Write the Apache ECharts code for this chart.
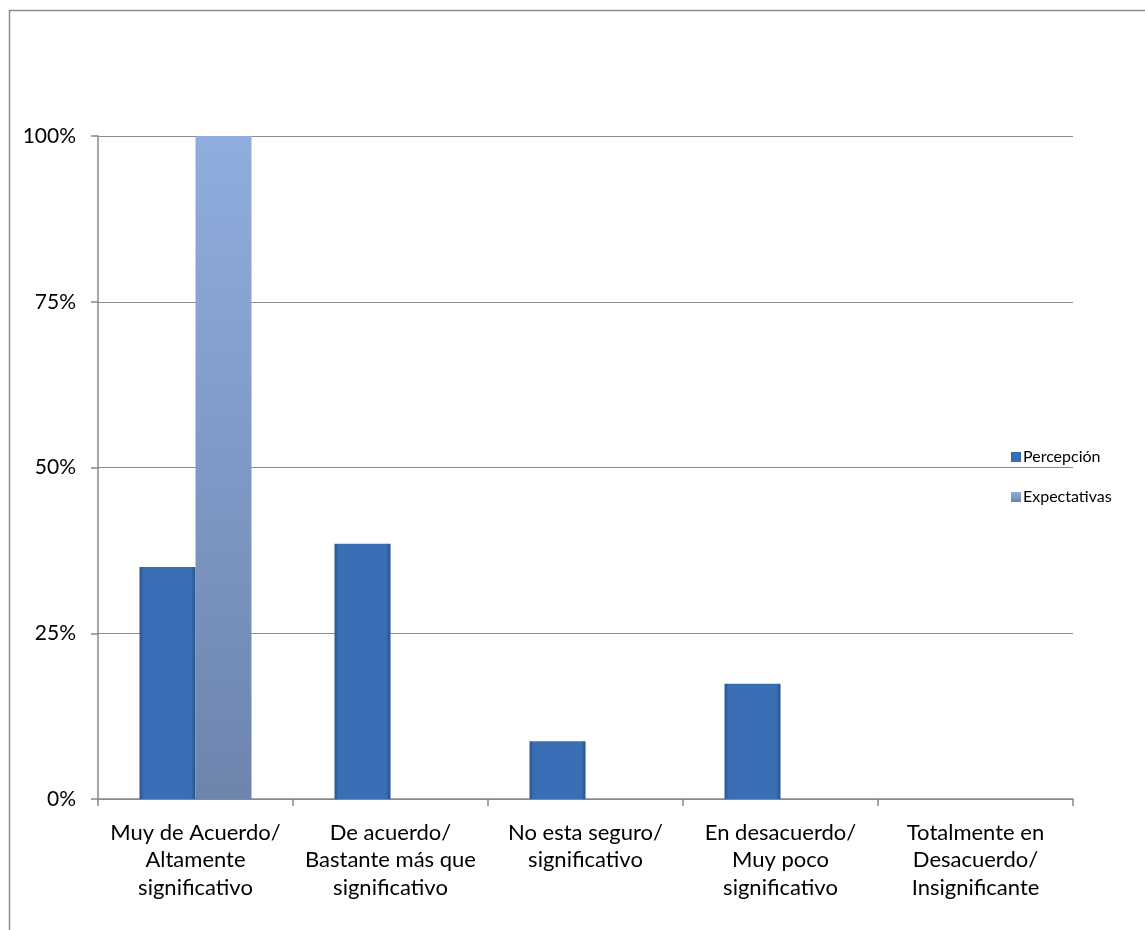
<!DOCTYPE html>
<html><head><meta charset="utf-8">
<script src="https://cdn.jsdelivr.net/npm/echarts@6/dist/echarts.min.js"></script>
<style>html,body{margin:0;padding:0;background:#fff}#c{width:1145px;height:930px}</style>
</head><body><div id="c"></div>
<script>
var categories = ['Muy de Acuerdo/\nAltamente\nsignificativo','De acuerdo/\nBastante más que\nsignificativo','No esta seguro/\nsignificativo','En desacuerdo/\nMuy poco\nsignificativo','Totalmente en\nDesacuerdo/\nInsignificante'];
var percepcion = [35, 38.5, 8.7, 17.4, 0];
var expectativas = [100, 0, 0, 0, 0];
var yTicks = [0, 25, 50, 75, 100];
var FONT = 'Lato, "Open Sans", sans-serif';
var chart = echarts.init(document.getElementById('c'), null, {renderer:'canvas'});
function grad(c1,c2,c3){return {type:'linear',x:0,y:0,x2:1,y2:0,colorStops:[{offset:0,color:c1},{offset:0.08,color:c2},{offset:0.92,color:c2},{offset:1,color:c3}]};}
chart.setOption({
  animation:false,
  graphic:[{type:'rect',shape:{x:9.5,y:10.5,width:1300,height:1000},style:{fill:'none',stroke:'#8c8c8c',lineWidth:1.5},silent:true}],
  grid:{left:98,right:72,top:136,bottom:131},
  legend:{orient:'vertical',left:1006,top:444,itemWidth:10,itemHeight:10,itemGap:24,icon:'rect',
    textStyle:{fontFamily:FONT,fontSize:16,color:'#000',padding:[0,0,0,-3]},
    data:['Percepción','Expectativas']},
  xAxis:{type:'category',data:categories,
    axisLine:{lineStyle:{color:'#888',width:1.5}},
    axisTick:{show:true,length:7,lineStyle:{color:'#888',width:1.5},alignWithLabel:false},
    axisLabel:{fontFamily:FONT,fontSize:22,color:'#000',lineHeight:27.5,margin:20,interval:0}},
  yAxis:{type:'value',min:0,max:100,interval:25,
    axisLine:{show:true,lineStyle:{color:'#888',width:1.5}},
    axisTick:{show:true,length:7,lineStyle:{color:'#888',width:1.5}},
    splitLine:{lineStyle:{color:'#8c8c8c',width:1.2}},
    axisLabel:{fontFamily:FONT,fontSize:21,color:'#000',margin:22,formatter:function(v){return yTicks.indexOf(v)>=0? v+'%':'';}}},
  series:[
    {name:'Percepción',type:'bar',data:percepcion,barGap:'0%',barWidth:56,
      itemStyle:{color:grad('#2a5590','#3a6fb5','#28508a')}},
    {name:'Expectativas',type:'bar',data:expectativas,barGap:'0%',barWidth:56,
      itemStyle:{color:{type:'linear',x:0,y:0,x2:0,y2:1,colorStops:[{offset:0,color:'#8fadde'},{offset:1,color:'#6d85ad'}]}}}
  ]
});
</script></body></html>
